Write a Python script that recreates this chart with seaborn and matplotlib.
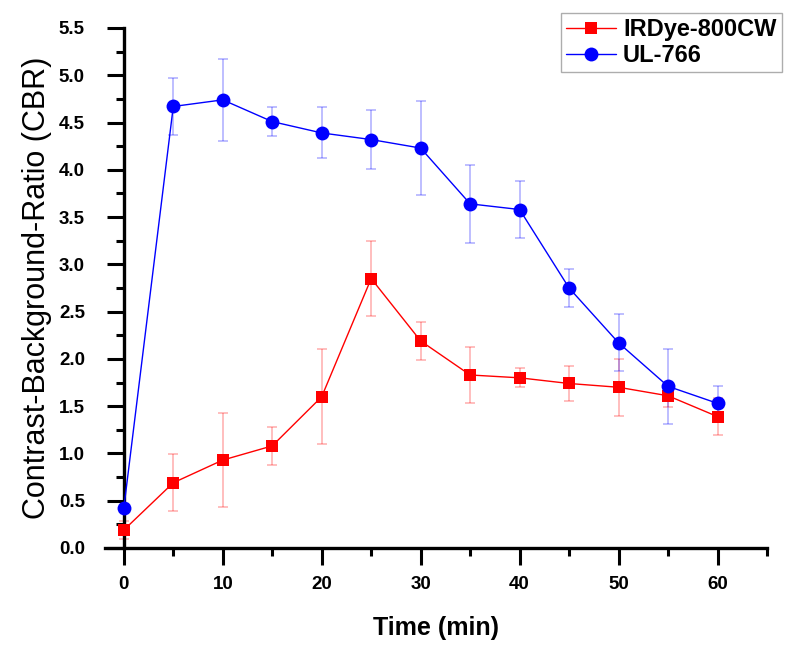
import matplotlib
matplotlib.use("Agg")
import matplotlib.pyplot as plt
from matplotlib.ticker import MultipleLocator
import numpy as np
import pandas as pd
import seaborn as sns

# values
time = [0, 5, 10, 15, 20, 25, 30, 35, 40, 45, 50, 55, 60]
irdye = [0.19, 0.69, 0.93, 1.08, 1.60, 2.85, 2.19, 1.83, 1.80, 1.74, 1.70, 1.61, 1.39]
irdye_err = [0.10, 0.30, 0.50, 0.20, 0.50, 0.40, 0.20, 0.30, 0.10, 0.19, 0.30, 0.12, 0.20]
ul766 = [0.42, 4.67, 4.74, 4.51, 4.39, 4.32, 4.23, 3.64, 3.58, 2.75, 2.17, 1.71, 1.53]
ul766_err = [0.00, 0.30, 0.43, 0.15, 0.27, 0.31, 0.50, 0.41, 0.30, 0.20, 0.30, 0.40, 0.18]

series = ["IRDye-800CW", "UL-766"]
colors = {"IRDye-800CW": "#ff0000", "UL-766": "#0000ff"}
markers = {"IRDye-800CW": "s", "UL-766": "o"}

df = pd.DataFrame({
    "Time": time * 2,
    "CBR": irdye + ul766,
    "err": irdye_err + ul766_err,
    "Dye": [series[0]] * len(time) + [series[1]] * len(time),
})

sns.set_style("ticks")
plt.rcParams["font.family"] = ["Liberation Sans", "DejaVu Sans"]
plt.rcParams.update({"text.color": "black", "axes.labelcolor": "black",
                     "axes.edgecolor": "black", "xtick.color": "black",
                     "ytick.color": "black"})

fig = plt.figure(figsize=(8, 6.52), dpi=100)
ax = fig.add_axes([105 / 800, 104 / 652, 662 / 800, 520 / 652])

# error bars first, light
for name in series:
    d = df[df["Dye"] == name]
    ax.errorbar(d["Time"], d["CBR"], yerr=d["err"], fmt="none",
                ecolor=colors[name], alpha=0.3, elinewidth=1.2,
                capsize=3.5, capthick=1.2, zorder=2)

sns.lineplot(data=df, x="Time", y="CBR", hue="Dye", style="Dye",
             palette=colors, markers=markers, dashes=False,
             linewidth=1.0, markersize=9, markeredgewidth=0,
             ax=ax, zorder=3)
# circles a touch bigger than squares
for line in ax.get_lines():
    if line.get_marker() == "o":
        line.set_markersize(10)

ax.set_xlim(-1.9, 65)
ax.set_ylim(0, 5.5)
ax.spines["left"].set_position(("data", 0))
ax.spines["right"].set_visible(False)
ax.spines["top"].set_visible(False)
for s in ("left", "bottom"):
    ax.spines[s].set_linewidth(2.4)

ax.xaxis.set_major_locator(MultipleLocator(10))
ax.xaxis.set_minor_locator(MultipleLocator(5))
ax.yaxis.set_minor_locator(MultipleLocator(0.25))
yt = np.arange(0, 5.51, 0.5)
ax.set_yticks(yt)
ax.set_yticklabels([f"{v:.1f}" for v in yt])
ax.tick_params(axis="both", which="major", length=12, width=2.2, labelsize=13.5, pad=8)
ax.tick_params(axis="both", which="minor", length=6, width=2.2)
ax.tick_params(axis="y", pad=16)
for lab in ax.get_xticklabels() + ax.get_yticklabels():
    lab.set_fontweight("bold")

ax.set_xlabel("Time (min)", fontsize=18, fontweight="bold", labelpad=17)
ax.set_ylabel("Contrast-Background-Ratio (CBR)", fontsize=22, labelpad=5)

leg = ax.legend(loc="upper right", bbox_to_anchor=(1.04, 1.052), frameon=True,
                fancybox=False, edgecolor="#999999", handlelength=2.1,
                borderpad=0.22, labelspacing=0.14, handletextpad=0.3,
                prop={"size": 17, "weight": "bold"})
leg.get_frame().set_linewidth(1.0)

fig.savefig("out.png", dpi=100)
